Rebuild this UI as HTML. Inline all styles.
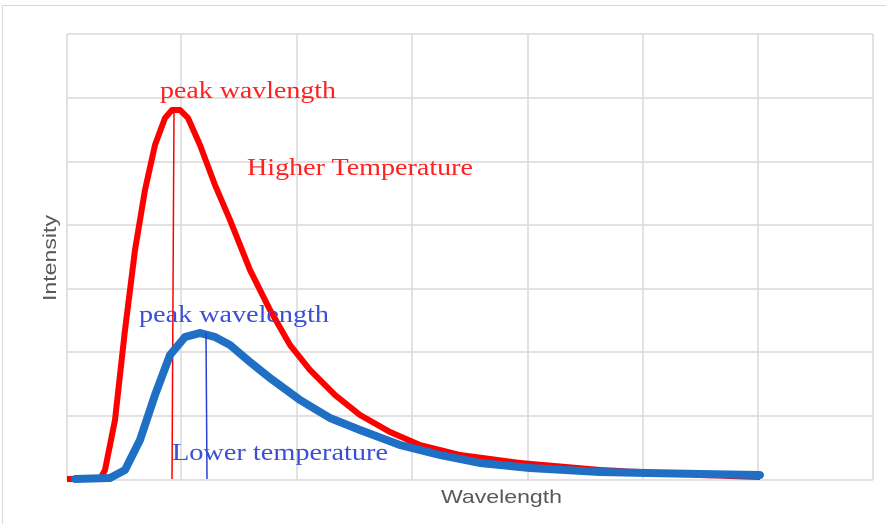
<!DOCTYPE html>
<html><head><style>body{margin:0;background:#fff}</style></head><body>
<svg width="886" height="524" xmlns="http://www.w3.org/2000/svg" style="display:block">
<rect x="2.5" y="5.5" width="890" height="530" fill="none" stroke="#d9d9d9"/>
<g stroke="#d9d9d9" stroke-width="1.5">
<line x1="67" y1="34" x2="67" y2="480"/><line x1="181" y1="34" x2="181" y2="480"/><line x1="297" y1="34" x2="297" y2="480"/><line x1="412" y1="34" x2="412" y2="480"/><line x1="528" y1="34" x2="528" y2="480"/><line x1="643" y1="34" x2="643" y2="480"/><line x1="758" y1="34" x2="758" y2="480"/><line x1="873" y1="34" x2="873" y2="480"/>
<line x1="67" y1="34" x2="873" y2="34"/><line x1="67" y1="98" x2="873" y2="98"/><line x1="67" y1="162" x2="873" y2="162"/><line x1="67" y1="225" x2="873" y2="225"/><line x1="67" y1="289" x2="873" y2="289"/><line x1="67" y1="352" x2="873" y2="352"/><line x1="67" y1="416" x2="873" y2="416"/><line x1="67" y1="480" x2="873" y2="480"/>
</g>
<polyline fill="none" stroke="#ff0000" stroke-width="6" stroke-linejoin="round" points="67,479 100,479 105,470 115,420 125,330 135,250 145,190 155,145 165,118 172,110 180,110 188,118 200,145 215,185 230,220 250,270 270,310 290,345 310,370 335,395 360,415 390,432 420,445 460,455 520,463 600,470 700,475 760,477"/>
<line x1="174" y1="110" x2="172" y2="479" stroke="#ff0000" stroke-width="1.5"/>
<polyline fill="none" stroke="#1f6fc5" stroke-width="8" stroke-linejoin="round" stroke-linecap="round" points="75,479 110,478 125,470 140,440 155,395 170,355 185,337 200,333 215,337 230,345 250,362 270,378 300,400 330,418 360,430 400,445 440,455 480,463 530,468 600,472 700,474 760,475"/>
<line x1="206" y1="333" x2="207" y2="479" stroke="#2c3fd0" stroke-width="1.5"/>
<g font-family="Liberation Serif, serif" font-size="24">
<text x="160" y="98" fill="#ff2020" textLength="176" lengthAdjust="spacingAndGlyphs">peak wavlength</text>
<text x="247" y="175" fill="#ff2020" textLength="226" lengthAdjust="spacingAndGlyphs">Higher Temperature</text>
<text x="139" y="322" fill="#3b4fd6" textLength="190" lengthAdjust="spacingAndGlyphs">peak wavelength</text>
<text x="172" y="460" fill="#3b4fd6" textLength="216" lengthAdjust="spacingAndGlyphs">Lower temperature</text>
</g>
<g font-family="Liberation Sans, sans-serif" font-size="18" fill="#595959">
<text x="441" y="503" textLength="121" lengthAdjust="spacingAndGlyphs">Wavelength</text>
<text transform="translate(56,258) rotate(-90)" text-anchor="middle" textLength="86" lengthAdjust="spacingAndGlyphs">Intensity</text>
</g>
</svg>
</body></html>
